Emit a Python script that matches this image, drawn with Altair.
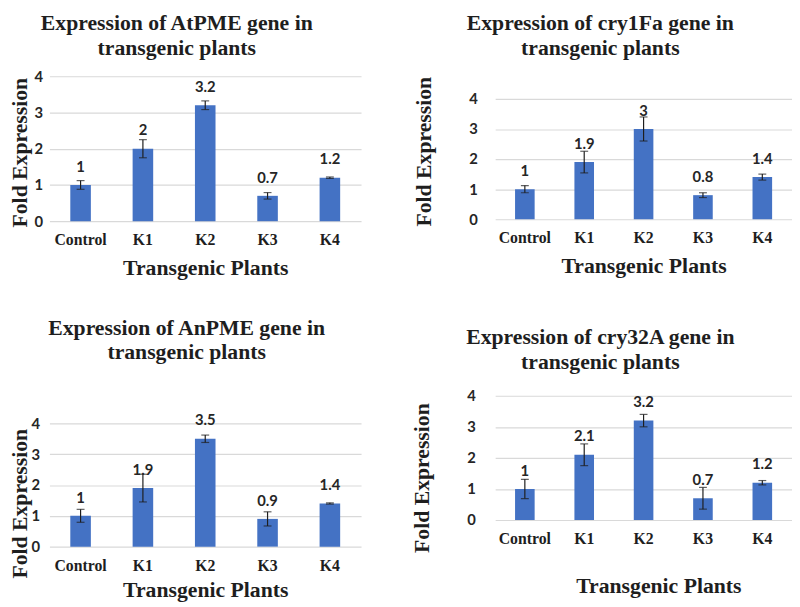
import altair as alt
import pandas as pd

categories = ["Control", "K1", "K2", "K3", "K4"]

atpme_values = [1, 2, 3.2, 0.7, 1.2]
atpme_errors = [0.12, 0.25, 0.12, 0.09, 0.02]
cry1fa_values = [1, 1.9, 3, 0.8, 1.4]
cry1fa_errors = [0.12, 0.36, 0.4, 0.08, 0.1]
anpme_values = [1, 1.9, 3.5, 0.9, 1.4]
anpme_errors = [0.21, 0.45, 0.12, 0.23, 0.02]
cry32a_values = [1, 2.1, 3.2, 0.7, 1.2]
cry32a_errors = [0.31, 0.35, 0.2, 0.35, 0.07]

y_ticks = [0, 1, 2, 3, 4]

BAR = "#4472C4"
SERIF = "Liberation Serif"
SANS = "Lato"
INK = "#1e1e1e"


def panel(title_lines, values, errors, w, h, t_offset, t_dx, y_title_y,
          y_lab_pad, y_title_pad, x_title_pad, x_title_shift=0, y_top=4.0):
    df = pd.DataFrame({
        "cat": categories,
        "v": values,
        "lo": [v - e for v, e in zip(values, errors)],
        "hi": [v + e for v, e in zip(values, errors)],
        "label": [f"{v:g}" for v in values],
    })
    x = alt.X(
        "cat:N", sort=categories,
        scale=alt.Scale(paddingInner=0.67, paddingOuter=0.335),
        axis=alt.Axis(
            title="Transgenic Plants", labelAngle=0, labelFont=SERIF,
            labelFontWeight="bold", labelFontSize=16, labelColor=INK,
            labelPadding=11, ticks=False, domain=False,
            titleFont=SERIF, titleFontSize=22, titleFontWeight="bold",
            titleColor=INK, titlePadding=x_title_pad,
            titleX=w / 2 + x_title_shift,
        ),
    )
    yscale = alt.Scale(domain=[0, y_top], nice=False)
    yaxis = alt.Axis(
        values=y_ticks, grid=True, gridColor="#d9d9d9", gridWidth=1.2,
        domain=False, ticks=False, labelFont=SANS, labelFontWeight="bold",
        labelFontSize=15, labelColor="#262626", labelPadding=y_lab_pad,
        title="Fold Expression", titleFont=SERIF, titleFontSize=22,
        titleFontWeight="bold", titleColor=INK, titlePadding=y_title_pad,
        titleY=y_title_y,
    )
    base = alt.Chart(df).encode(x=x)
    bars = base.mark_bar(color=BAR).encode(
        y=alt.Y("v:Q", scale=yscale, axis=yaxis, title="Fold Expression")
    )
    rule = base.mark_rule(color=INK, strokeWidth=1.2).encode(
        y=alt.Y("lo:Q", scale=yscale, axis=yaxis, title="Fold Expression"),
        y2="hi:Q",
    )
    caps_hi = base.mark_tick(color=INK, size=8, thickness=1.2).encode(
        y=alt.Y("hi:Q", scale=yscale, axis=yaxis, title="Fold Expression")
    )
    caps_lo = base.mark_tick(color=INK, size=8, thickness=1.2).encode(
        y=alt.Y("lo:Q", scale=yscale, axis=yaxis, title="Fold Expression")
    )
    text = base.mark_text(
        dy=-18.5, font=SANS, fontWeight="bold", fontSize=15, color="#262626",
        baseline="middle",
    ).encode(
        y=alt.Y("v:Q", scale=yscale, axis=yaxis, title="Fold Expression"),
        text="label:N",
    )
    return alt.layer(bars, rule, caps_hi, caps_lo, text).properties(
        width=w, height=h,
        title=alt.TitleParams(
            text=title_lines, font=SERIF, fontSize=22, fontWeight="bold",
            color=INK, lineHeight=25, offset=t_offset, frame="bounds",
            anchor="middle", dx=t_dx,
        ),
    )


# top-right panel: its plot frame starts level with the top-left one, the
# gridded 0-4 region sits lower, as in the reference
p2_frame = 145
p2_grid = 122

p1 = panel(["Expression of AtPME gene in", "transgenic plants"],
           atpme_values, atpme_errors, 316, 147, 10, -8, 77, 7, 3, 10)
p2 = panel(["Expression of cry1Fa gene in", "transgenic plants"],
           cry1fa_values, cry1fa_errors, 301, p2_frame, 17, -2, 76, 18, 34, 10,
           0, 4.0 * p2_frame / p2_grid)
p3 = panel(["Expression of AnPME gene in", "transgenic plants"],
           anpme_values, anpme_errors, 316, 125, 50, 2, 81, 10, 0, 7)
p4 = panel(["Expression of cry32A gene in", "transgenic plants"],
           cry32a_values, cry32a_errors, 301, 126, 15, -1, 83, 20, 34, 30, 15)

col1 = alt.vconcat(p1, p3, spacing=39)
col2 = alt.vconcat(p2, p4, spacing=51)
chart = alt.hconcat(col1, col2, spacing=50).properties(
    padding=0, background="white"
).configure_view(stroke=None)

chart.save("out.html", embed_options={"renderer": "svg", "actions": False})
